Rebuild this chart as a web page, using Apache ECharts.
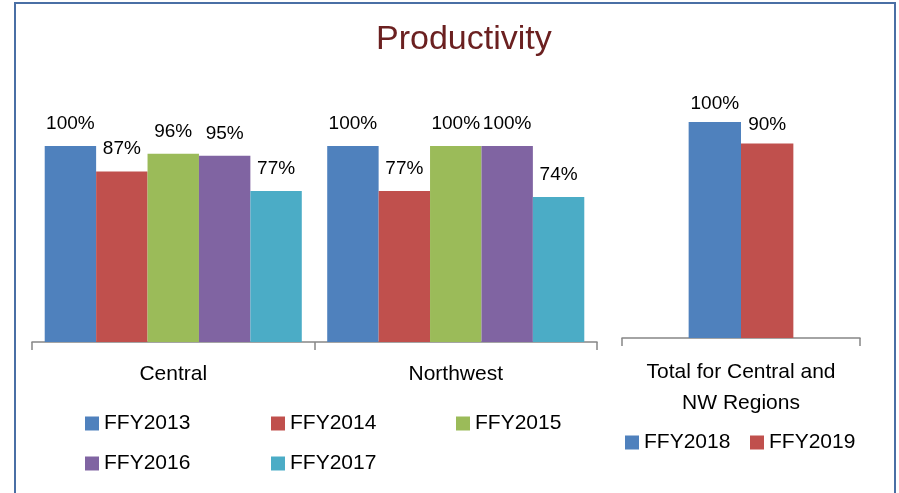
<!DOCTYPE html>
<html>
<head>
<meta charset="utf-8">
<script src="https://cdn.jsdelivr.net/npm/echarts@6/dist/echarts.min.js"></script>
<style>
html, body { margin: 0; padding: 0; background: #fff; }
#main { width: 899px; height: 493px; }
</style>
</head>
<body>
<div id="main"></div>
<script>
// regions chart
var regions = ['Central', 'Northwest'];
var years = ['FFY2013', 'FFY2014', 'FFY2015', 'FFY2016', 'FFY2017'];
var ffy2013 = [100, 100];
var ffy2014 = [87, 77];
var ffy2015 = [96, 100];
var ffy2016 = [95, 100];
var ffy2017 = [77, 74];

// total chart
var totalCat = ['Total for Central and\nNW Regions'];
var totalYears = ['FFY2018', 'FFY2019'];
var ffy2018 = [100];
var ffy2019 = [90];

var colors = ['#4f81bd', '#c0504d', '#9bbb59', '#8064a2', '#4bacc6'];
var font = '"Liberation Sans", Arial, sans-serif';

var myChart = echarts.init(document.getElementById('main'));

function pct(p) { return p.value + '%'; }

var leftValues = [ffy2013, ffy2014, ffy2015, ffy2016, ffy2017];
var series = [];
for (var i = 0; i < years.length; i++) {
	series.push({
		name: years[i],
		type: 'bar',
		xAxisIndex: 0,
		yAxisIndex: 0,
		data: leftValues[i],
		barGap: 0,
		barCategoryGap: '9%',
		itemStyle: { color: colors[i] },
		label: {
			show: true, position: 'top', distance: 13,
			formatter: pct, color: '#000', fontSize: 19, fontFamily: font
		}
	});
}
var rightValues = [ffy2018, ffy2019];
for (var j = 0; j < totalYears.length; j++) {
	series.push({
		name: totalYears[j],
		type: 'bar',
		xAxisIndex: 1,
		yAxisIndex: 1,
		data: rightValues[j],
		barGap: 0,
		barCategoryGap: '56%',
		itemStyle: { color: colors[j] },
		label: {
			show: true, position: 'top', distance: 9,
			formatter: pct, color: '#000', fontSize: 19, fontFamily: font
		}
	});
}

// one legend per item so each sits where it does in the picture
var legendPos = [
	['FFY2013', 85, 413], ['FFY2014', 271, 413], ['FFY2015', 456, 413],
	['FFY2016', 85, 453], ['FFY2017', 271, 453],
	['FFY2018', 625, 432], ['FFY2019', 750, 432]
];
var legends = legendPos.map(function(l) {
	return {
		data: [l[0]], left: l[1], top: l[2], padding: 0,
		icon: 'rect', itemWidth: 14, itemHeight: 14,
		selectedMode: false,
		textStyle: { color: '#000', fontSize: 21, fontFamily: font }
	};
});

var axisStyle = { lineStyle: { color: '#868686', width: 1.5 } };

option = {
	backgroundColor: '#fff',
	animation: false,
	title: {
		text: 'Productivity',
		left: 376, top: 23, padding: 0,
		textStyle: { color: '#6b2020', fontSize: 34, fontWeight: 'normal', fontFamily: font }
	},
	legend: legends,
	grid: [
		{ left: 32, right: 302, top: 146, bottom: 151 },
		{ left: 622, right: 39, top: 122, bottom: 155 }
	],
	xAxis: [{
		type: 'category', gridIndex: 0, data: regions,
		axisLine: axisStyle,
		axisTick: { show: true, length: 8, lineStyle: { color: '#868686', width: 1.5 } },
		axisLabel: { color: '#000', fontSize: 21, fontFamily: font, margin: 22 }
	}, {
		type: 'category', gridIndex: 1, data: totalCat,
		axisLine: axisStyle,
		axisTick: { show: true, length: 8, lineStyle: { color: '#868686', width: 1.5 } },
		axisLabel: { color: '#000', fontSize: 21, fontFamily: font, margin: 19, lineHeight: 31 }
	}],
	yAxis: [
		{ type: 'value', gridIndex: 0, min: 0, max: 100, show: false },
		{ type: 'value', gridIndex: 1, min: 0, max: 100, show: false }
	],
	graphic: [{
		type: 'rect',
		shape: { x: 15, y: 3, width: 880, height: 520 },
		style: { fill: null, stroke: '#4a6fa5', lineWidth: 2 },
		silent: true
	}],
	series: series
};

myChart.setOption(option, true);
</script>
</body>
</html>
